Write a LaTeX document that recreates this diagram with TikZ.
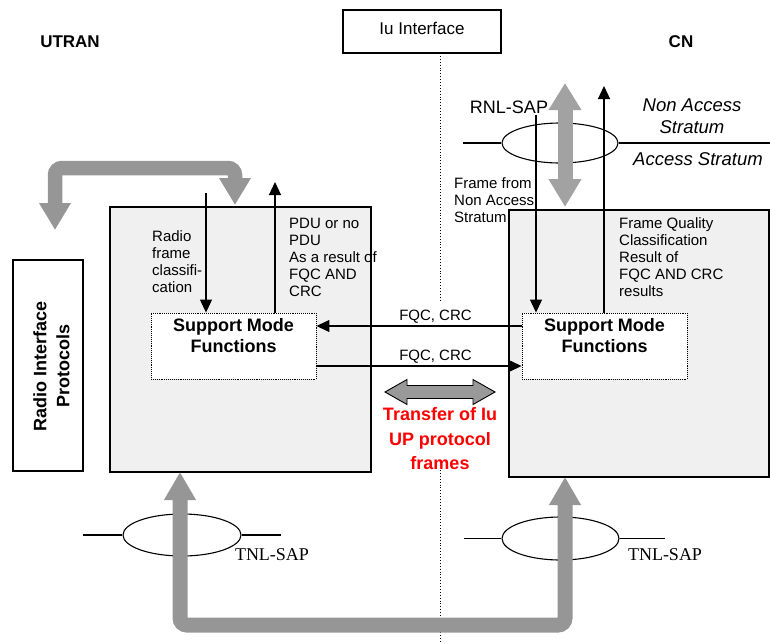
\documentclass[tikz,border=0pt]{standalone}
\usepackage{fontspec}
\setmainfont{Liberation Sans}
\newfontfamily\tnlfont{Liberation Serif}
\usetikzlibrary{arrows.meta,shapes.geometric}
\definecolor{bigarrowgray}{RGB}{150,150,150}
\definecolor{lightarrowgray}{RGB}{162,162,162}
\definecolor{midgray}{RGB}{153,153,153}
\definecolor{boxfill}{RGB}{240,240,240}
\begin{document}
\begin{tikzpicture}[x=1pt,y=-1pt,
  txt/.style={font=\fontsize{15}{17}\selectfont, inner sep=0pt, align=left, anchor=north west},
  thinline/.style={line width=1.2pt},
  thinarrow/.style={line width=1.2pt, -{Triangle[length=13pt,width=12pt]}},
  bigbox/.style={draw, line width=1.1pt, fill=boxfill},
  smfbox/.style={draw, densely dotted, line width=0.9pt, fill=white, inner sep=0pt},
  smftext/.style={font=\bfseries\fontsize{18}{21}\selectfont, align=center, inner sep=0pt, anchor=north},
  bigarrow/.style={line width=14.5pt, draw=bigarrowgray, rounded corners=7pt},
  sapellipse/.style={draw, ellipse, line width=1.1pt, inner sep=0pt}
]
\useasboundingbox (0,0) rectangle (770,643);

% titles
\node[font=\bfseries\fontsize{17}{20}\selectfont] (utran) at (70,42) {UTRAN};
\node[font=\bfseries\fontsize{17}{20}\selectfont] (cn) at (681,42) {CN};
\node[draw, line width=1.1pt, minimum width=158, minimum height=43, text depth=6pt,
      font=\fontsize{17}{20}\selectfont] (iu) at (422,31.5) {Iu Interface};

% dotted interface line
\coordinate (dotA) at (440,53);
\coordinate (dotB) at (440,302);
\coordinate (dotC) at (440,470);
\coordinate (dotD) at (440,643);
\draw[dotted, line width=0.9pt] (dotA) -- (dotB);
\draw[dotted, line width=0.9pt] (dotC) -- (dotD);

% Radio interface protocols
\node[draw, line width=1.1pt, minimum width=70, minimum height=211, inner sep=0pt] (rip) at (48,365.5) {};
\node[rotate=90, font=\bfseries\fontsize{18}{23}\selectfont, align=center] (riptext) at (51.5,366) {Radio Interface\\Protocols};

% big boxes
\node[bigbox, minimum width=261, minimum height=265, inner sep=0pt] (utranbox) at (240.5,339.5) {};
\node[bigbox, minimum width=260, minimum height=267, inner sep=0pt] (cnbox) at (639,343.5) {};

% support mode function boxes
\node[smfbox, minimum width=165, minimum height=66] (smfL) at (233.5,346) {};
\node[smfbox, minimum width=165, minimum height=66] (smfR) at (604.5,346) {};
\node[smftext] (smfLt) at (233.5,318.5) {Support Mode\\Functions};
\node[smftext] (smfRt) at (604.5,318.5) {Support Mode\\Functions};

% FQC arrows
\draw[thinarrow] ([yshift=20pt]smfR.west) -- ([yshift=20pt]smfL.east);
\draw[thinarrow] ([yshift=-20pt]smfL.east) -- ([yshift=-20pt]smfR.west);
\node[font=\fontsize{15}{17}\selectfont, anchor=base, inner sep=0pt] (fqc1) at (435.5,320.5) {FQC, CRC};
\node[font=\fontsize{15}{17}\selectfont, anchor=base, inner sep=0pt] (fqc2) at (435.5,360.5) {FQC, CRC};

% UTRAN thin arrows and texts
\coordinate (rfTop) at (206,193);
\coordinate (pduTop) at (275,182);
\draw[thinarrow] (rfTop) -- (rfTop |- smfL.north);
\draw[thinarrow] (pduTop |- smfL.north) -- (pduTop);
\node[txt] (rftext) at (152,230.6) {Radio\\frame\\classifi-\\cation};
\node[txt] (pdutext) at (289,217.6) {PDU or no\\PDU\\As a result of\\FQC AND\\CRC};

% CN thin arrows and texts
\coordinate (nasTop) at (536,115);
\coordinate (fqTop) at (604,86);
\draw[thinarrow] (nasTop) -- (nasTop |- smfR.north);
\draw[thinarrow] (fqTop |- smfR.north) -- (fqTop);
\node[txt] (nastext) at (454,177.6) {Frame from\\Non Access\\Stratum};
\node[txt] (fqtext) at (619,217.6) {Frame Quality\\Classification\\Result of\\FQC AND CRC\\results};

% RNL-SAP
\node[sapellipse, minimum width=116, minimum height=40] (rnlsap) at (560,143) {};
\coordinate (rnlL) at (463,143);
\coordinate (rnlR) at (770,143);
\draw[thinline] (rnlL) -- (rnlsap.west);
\draw[thinline] (rnlsap.east) -- (rnlR);
\node[font=\fontsize{18}{21}\selectfont] (rnltext) at (509,107) {RNL-SAP};
\node[font=\itshape\fontsize{18.5}{22}\selectfont, align=center, inner sep=0pt, anchor=north] (nastratum) at (692,98.5) {Non Access\\Stratum};
\node[font=\itshape\fontsize{18.5}{22}\selectfont] (astratum) at (698,159) {Access Stratum};
\coordinate (rnlArrTop) at (565,83);
\coordinate (rnlArrBot) at (565,207);
\draw[line width=15pt, draw=lightarrowgray,
      {Triangle[length=27pt,width=31pt]}-{Triangle[length=28pt,width=31pt]}] (rnlArrTop) -- (rnlArrBot);

% top-left bent arrow
\coordinate (tlA) at (235,205);
\coordinate (tlB) at (235,168);
\coordinate (tlC) at (55,168);
\coordinate (tlD) at (55,230);
\draw[bigarrow, {Triangle[length=27pt,width=30pt]}-{Triangle[length=27pt,width=30pt]}]
  (tlA) -- (tlB) -- (tlC) -- (tlD);

% TNL-SAP ellipses
\node[sapellipse, minimum width=118, minimum height=42] (tnlL) at (182,535) {};
\node[sapellipse, minimum width=117, minimum height=43] (tnlR) at (560.5,538.5) {};
\coordinate (tnlLa) at (83,535);
\coordinate (tnlLb) at (281,535);
\coordinate (tnlRa) at (464,538.5);
\coordinate (tnlRb) at (665,538.5);
\draw[thinline] (tnlLa) -- (tnlL.west);
\draw[thinline] (tnlL.east) -- (tnlLb);
\draw[thinline] (tnlRa) -- (tnlR.west);
\draw[thinline] (tnlR.east) -- (tnlRb);
\node[font=\tnlfont\fontsize{18}{21}\selectfont] (tnlLt) at (272,555) {TNL-SAP};
\node[font=\tnlfont\fontsize{18}{21}\selectfont] (tnlRt) at (665,555) {TNL-SAP};

% bottom U arrow
\coordinate (buA) at (180,625);
\coordinate (buB) at (565,625);
\draw[bigarrow, line width=15pt, {Triangle[length=28pt,width=30pt]}-{Triangle[length=28pt,width=30pt]}]
  (180,472) -- (buA) -- (buB) -- (565,477);

% horizontal transfer double arrow
\draw[fill=midgray, line width=0.9pt]
  (385,392) -- (407,379.5) -- (407,385.5) -- (473,385.5) -- (473,379.5) -- (495,392)
  -- (473,404.5) -- (473,398.5) -- (407,398.5) -- (407,404.5) -- cycle;
\node[font=\bfseries\fontsize{18}{24.5}\selectfont, text=red, align=center, inner sep=0pt, anchor=north]
  (transfer) at (440,407.6) {Transfer of Iu\\UP protocol\\frames};

\end{tikzpicture}
\end{document}
